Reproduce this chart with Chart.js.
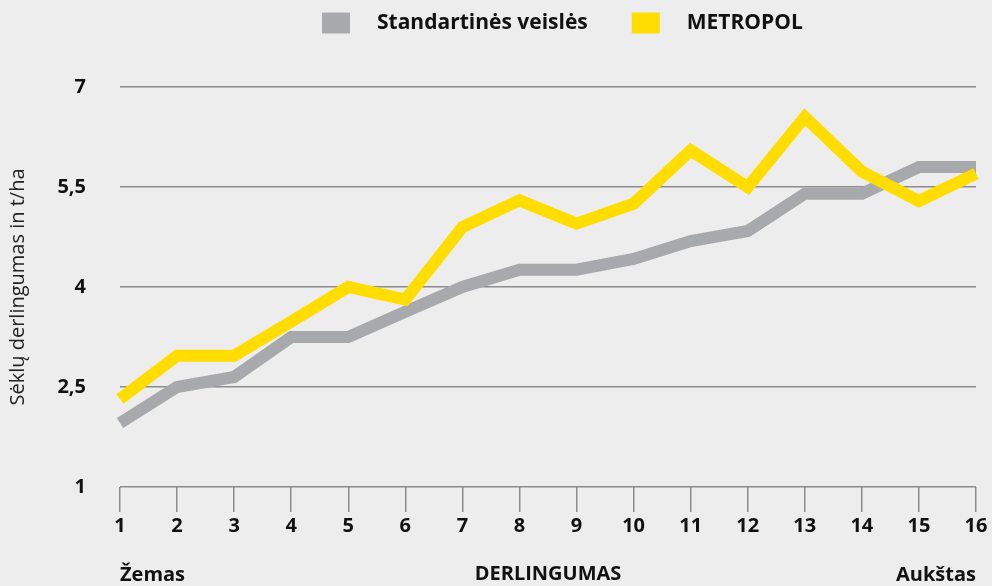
<!DOCTYPE html>
<html>
<head>
<meta charset="utf-8">
<script src="https://cdn.jsdelivr.net/npm/chart.js@4/dist/chart.umd.min.js"></script>
<style>
  html, body { margin: 0; padding: 0; background: #ededed; }
  #wrap { width: 992px; height: 586px; }
</style>
</head>
<body>
<div id="wrap"><canvas id="yield-chart"></canvas></div>
<script>
// Data for the chart
const categories = ['1', '2', '3', '4', '5', '6', '7', '8', '9', '10', '11', '12', '13', '14', '15', '16'];
const standartines = [1.96, 2.5, 2.65, 3.25, 3.25, 3.63, 4.0, 4.26, 4.26, 4.42, 4.69, 4.84, 5.4, 5.4, 5.8, 5.8];
const metropol = [2.32, 2.97, 2.97, 3.48, 4.0, 3.81, 4.9, 5.3, 4.95, 5.25, 6.05, 5.5, 6.55, 5.73, 5.29, 5.7];
const yTicks = [1, 2.5, 4, 5.5, 7];
const seriesNames = ['Standartinės veislės', 'METROPOL'];
const axisTitleY = 'Sėklų derlingumas in t/ha';
const axisTitleX = 'DERLINGUMAS';
const lowLabel = 'Žemas';
const highLabel = 'Aukštas';

const GREY = '#a7a9ac';
const YELLOW = '#ffdd00';
const GRID = '#8c8c8c';
const FONT = "'Open Sans', sans-serif";

// legend drawn by hand so box/text spacing matches
const legendPlugin = {
  id: 'customLegend',
  afterDraw(chart) {
    const ctx = chart.ctx;
    const items = chart.data.datasets.map(ds => ({ text: ds.label, color: ds.borderColor }));
    ctx.save();
    ctx.font = 'bold 21px ' + FONT;
    const boxW = 28, boxH = 21, gapText = 27, gapItem = 44;
    let x = 322;
    const y = 23;
    ctx.textBaseline = 'middle';
    items.forEach(it => {
      const w = ctx.measureText(it.text).width;
      ctx.fillStyle = it.color;
      ctx.fillRect(x, y - boxH / 2, boxW, boxH);
      ctx.fillStyle = '#111';
      ctx.fillText(it.text, x + boxW + gapText, y);
      x += boxW + gapText + w + gapItem;
    });
    ctx.restore();
  }
};

// end labels under the x axis
const endLabels = {
  id: 'endLabels',
  afterDraw(chart) {
    const ctx = chart.ctx;
    const xs = chart.scales.x;
    ctx.save();
    ctx.font = 'bold 20px ' + FONT;
    ctx.fillStyle = '#111';
    ctx.textBaseline = 'middle';
    ctx.textAlign = 'left';
    ctx.fillText(lowLabel, xs.getPixelForValue(0), 575);
    ctx.textAlign = 'right';
    ctx.fillText(highLabel, xs.getPixelForValue(categories.length - 1), 575);
    ctx.restore();
  }
};

const ctx = document.getElementById('yield-chart').getContext('2d');

new Chart(ctx, {
  type: 'line',
  data: {
    labels: categories,
    datasets: [
      {
        label: seriesNames[0],
        data: standartines,
        borderColor: GREY,
        backgroundColor: GREY,
        borderWidth: 12,
        pointRadius: 0,
        tension: 0,
        borderJoinStyle: 'miter',
        order: 1
      },
      {
        label: seriesNames[1],
        data: metropol,
        borderColor: YELLOW,
        backgroundColor: YELLOW,
        borderWidth: 12,
        pointRadius: 0,
        tension: 0,
        borderJoinStyle: 'miter',
        order: 0
      }
    ]
  },
  options: {
    responsive: true,
    maintainAspectRatio: false,
    animation: false,
    layout: { padding: { top: 87, right: 16, left: 0, bottom: 0 } },
    plugins: {
      legend: { display: false },
      tooltip: { enabled: false }
    },
    scales: {
      x: {
        offset: false,
        afterFit(scale) { scale.height = 99; },
        grid: {
          drawOnChartArea: false,
          drawTicks: true,
          tickLength: 25,
          color: GRID,
          lineWidth: 1.5
        },
        border: { display: false },
        ticks: {
          padding: 2,
          color: '#111',
          maxRotation: 0,
          autoSkip: false,
          font: { family: FONT, size: 20, weight: 'bold' }
        },
        title: {
          display: true,
          text: axisTitleX,
          color: '#111',
          padding: 0,
          font: { family: FONT, size: 20, weight: 'bold' }
        }
      },
      y: {
        min: yTicks[0],
        max: yTicks[yTicks.length - 1],
        afterFit(scale) { scale.width = 120; },
        afterBuildTicks(scale) { scale.ticks = yTicks.map(v => ({ value: v })); },
        grid: {
          drawTicks: false,
          color: GRID,
          lineWidth: 1.5
        },
        border: { display: false },
        ticks: {
          padding: 34,
          color: '#111',
          font: { family: FONT, size: 20, weight: 'bold' },
          callback: v => String(v).replace('.', ',')
        },
        title: {
          display: true,
          text: axisTitleY,
          color: '#222',
          padding: { top: 6 },
          font: { family: FONT, size: 20, weight: 'normal' }
        }
      }
    }
  },
  plugins: [legendPlugin, endLabels]
});
</script>
</body>
</html>
